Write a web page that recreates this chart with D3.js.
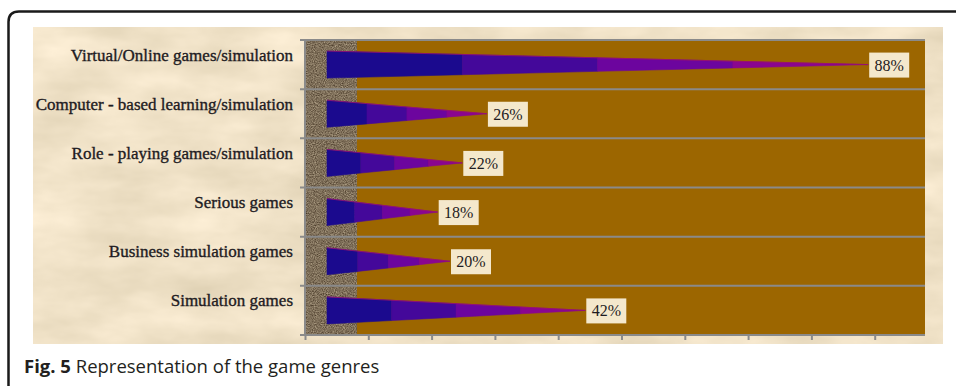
<!DOCTYPE html>
<html lang="en">
<head>
    <meta charset="UTF-8">
    <title>Representation of the game genres</title>
    <script src="https://d3js.org/d3.v7.min.js"></script>
    <style>
        body { margin: 0; background: #ffffff; }
        svg { display: block; }
        .cat { font-family: 'Liberation Serif', serif; font-size: 17px; fill: #1e1b22; stroke: #1e1b22; stroke-width: 0.35px; }
        .val { font-family: 'Liberation Serif', serif; font-size: 16px; fill: #1e1b22; }
        .caption { font-family: 'Open Sans', sans-serif; font-size: 18.5px; fill: #231f20; }
    </style>
</head>
<body>
<svg width="956" height="386"></svg>
<script>
    // chart data
    const genres = [
        "Virtual/Online games/simulation",
        "Computer - based learning/simulation",
        "Role - playing games/simulation",
        "Serious games",
        "Business simulation games",
        "Simulation games"
    ];
    const shares = [88, 26, 22, 18, 20, 42];
    const axisTicks = [0, 10, 20, 30, 40, 50, 60, 70, 80, 90];

    const svg = d3.select("svg");
    const defs = svg.append("defs");

    // parchment texture
    const fp = defs.append("filter").attr("id", "parch")
        .attr("color-interpolation-filters", "sRGB")
        .attr("x", 0).attr("y", 0).attr("width", 1).attr("height", 1);
    fp.append("feTurbulence").attr("type", "fractalNoise")
        .attr("baseFrequency", "0.012 0.03").attr("numOctaves", 4).attr("seed", 3);
    fp.append("feColorMatrix").attr("type", "matrix")
        .attr("values", "0.14 0 0 0 0.87  0.14 0 0 0 0.815  0.16 0 0 0 0.70  0 0 0 0 1");
    fp.append("feComposite").attr("in2", "SourceGraphic").attr("operator", "in");

    // side wall texture
    const fw = defs.append("filter").attr("id", "wall")
        .attr("color-interpolation-filters", "sRGB")
        .attr("x", 0).attr("y", 0).attr("width", 1).attr("height", 1);
    fw.append("feTurbulence").attr("type", "fractalNoise")
        .attr("baseFrequency", 0.9).attr("numOctaves", 2).attr("seed", 7);
    fw.append("feColorMatrix").attr("type", "matrix")
        .attr("values", "0.55 0 0 0 0.22  0.55 0 0 0 0.16  0.5 0 0 0 0.10  0 0 0 0 1");
    fw.append("feComposite").attr("in2", "SourceGraphic").attr("operator", "in");

    // outer frame
    svg.append("path")
        .attr("d", "M8.5,386 V22 Q8.5,11.5 19,11.5 H956")
        .attr("fill", "none").attr("stroke", "#1a1a1a").attr("stroke-width", 2.5);

    // chart background
    svg.append("rect").attr("x", 33).attr("y", 27).attr("width", 910).attr("height", 317)
        .attr("fill", "#efe2c6").attr("filter", "url(#parch)");

    const plotTop = 40, plotBottom = 335, wallX = 305, floorX = 357, plotRight = 925;

    const y = d3.scaleBand().domain(genres).range([plotTop, plotBottom]);
    const x = d3.scaleLinear().domain([0, 100]).range([327, 942]);
    const xTicks = d3.scaleLinear().domain([0, 100]).range([wallX, 938]);

    svg.append("rect").attr("x", wallX).attr("y", plotTop)
        .attr("width", floorX - wallX).attr("height", plotBottom - plotTop)
        .attr("fill", "#7d6e5a").attr("filter", "url(#wall)");
    svg.append("rect").attr("x", floorX).attr("y", plotTop)
        .attr("width", plotRight - floorX).attr("height", plotBottom - plotTop)
        .attr("fill", "#9c6600");

    // category separators
    const edges = genres.map(g => y(g)).concat([plotBottom]);
    svg.selectAll(".sep").data(edges).enter().append("line")
        .attr("x1", wallX - 5).attr("x2", plotRight)
        .attr("y1", d => d).attr("y2", d => d)
        .attr("stroke", "#8a8a8a").attr("stroke-width", 2);
    svg.append("line").attr("x1", wallX).attr("x2", wallX)
        .attr("y1", plotTop).attr("y2", plotBottom)
        .attr("stroke", "#8a8a8a").attr("stroke-width", 2);

    // bottom ticks
    const ax = svg.append("g").attr("transform", `translate(0,${plotBottom + 1})`)
        .call(d3.axisBottom(xTicks).tickValues(axisTicks).tickSize(4).tickFormat(""));
    ax.select(".domain").remove();
    ax.selectAll("line").attr("stroke", "#8a8a8a").attr("stroke-width", 2);

    // cone bars, 4 shaded segments each
    const segColors = ["#1b0a8e", "#44089a", "#6c059e", "#8a058f"];
    const halfH = 13.5;
    genres.forEach((g, i) => {
        const yc = y(g) + y.bandwidth() / 2;
        const x0 = x(0), x1 = x(shares[i]);
        const len = x1 - x0;
        const hAt = px => halfH * (1 - (px - x0) / len);
        segColors.forEach((c, k) => {
            const a = x0 + len * k / 4, b = x0 + len * (k + 1) / 4;
            const pts = [[a, yc - hAt(a)], [b, yc - hAt(b)], [b, yc + hAt(b)], [a, yc + hAt(a)]];
            svg.append("path").attr("d", d3.line()(pts) + "Z")
                .attr("fill", c).attr("stroke", c).attr("stroke-width", 0.6);
        });
        svg.append("line").attr("x1", x0).attr("y1", yc - halfH).attr("x2", x1).attr("y2", yc)
            .attr("stroke", "#9a1070").attr("stroke-width", 0.8);

        // value label
        const lbl = svg.append("g").attr("transform", `translate(${x1 + 1},${yc - 12})`);
        lbl.append("rect").attr("width", 40).attr("height", 25).attr("fill", "#f4e8cc");
        lbl.append("text").attr("class", "val").attr("x", 20).attr("y", 18)
            .attr("text-anchor", "middle").text(shares[i] + "%");

        // category label
        svg.append("text").attr("class", "cat")
            .attr("x", 293).attr("y", yc - 4)
            .attr("text-anchor", "end").text(g);
    });

    // caption
    const cap = svg.append("text").attr("class", "caption").attr("x", 24).attr("y", 373);
    cap.append("tspan").attr("font-weight", "bold").text("Fig. 5");
    cap.append("tspan").text(" Representation of the game genres");
</script>
</body>
</html>
